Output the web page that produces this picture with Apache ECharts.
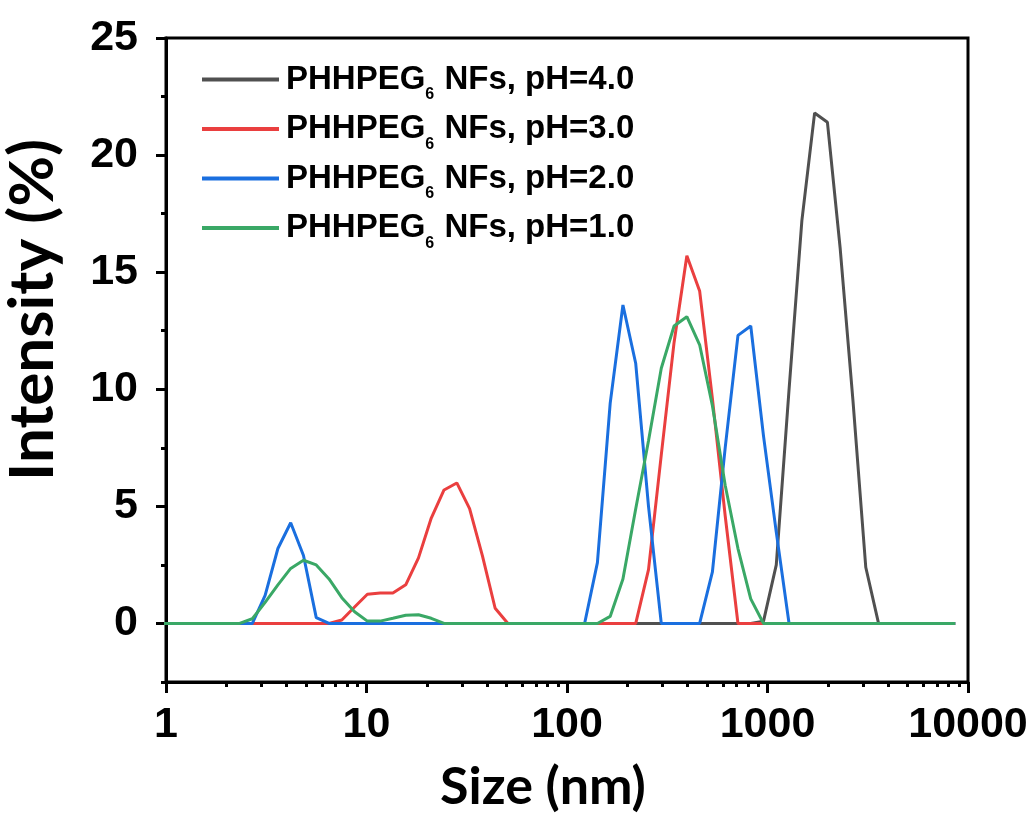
<!DOCTYPE html>
<html lang="en">
<head>
    <meta charset="UTF-8">
    <title>DLS size distribution</title>
    <script src="https://cdn.jsdelivr.net/npm/echarts@6/dist/echarts.min.js"></script>
    <style>
        html, body {
            margin: 0;
            padding: 0;
            background: #fff;
        }
        #chart {
            width: 1033px;
            height: 818px;
        }
    </style>
</head>
<body>
<div id="chart"></div>
<script>
    // size bins (nm)
    var sizes = [0.9649, 1.117, 1.294, 1.499, 1.736, 2.010, 2.328, 2.696, 3.122, 3.615,
        4.187, 4.849, 5.615, 6.503, 7.531, 8.721, 10.10, 11.70, 13.54, 15.69,
        18.17, 21.04, 24.36, 28.21, 32.67, 37.84, 43.82, 50.75, 58.77, 68.06,
        78.82, 91.28, 105.7, 122.4, 141.8, 164.2, 190.1, 220.2, 255.0, 295.3,
        342.0, 396.1, 458.7, 531.2, 615.1, 712.4, 825.0, 955.4, 1106, 1281,
        1484, 1718, 1990, 2305, 2669, 3091, 3580, 4145, 4801, 5560,
        6439, 7456, 8635];

    // intensity (%)
    var ph4 = [0, 0, 0, 0, 0, 0, 0, 0, 0, 0,
        0, 0, 0, 0, 0, 0, 0, 0, 0, 0,
        0, 0, 0, 0, 0, 0, 0, 0, 0, 0,
        0, 0, 0, 0, 0, 0, 0, 0, 0, 0,
        0, 0, 0, 0, 0, 0, 0, 0.1, 2.5, 10.0,
        17.2, 21.8, 21.4, 16.0, 9.5, 2.4, 0, 0, 0, 0,
        0, 0, 0];
    var ph3 = [0, 0, 0, 0, 0, 0, 0, 0, 0, 0,
        0, 0, 0, 0, 0.15, 0.7, 1.25, 1.3, 1.3, 1.65,
        2.8, 4.5, 5.7, 6.0, 4.9, 2.9, 0.65, 0, 0, 0,
        0, 0, 0, 0, 0, 0, 0, 0, 2.3, 7.2,
        12.0, 15.7, 14.2, 9.6, 4.6, 0, 0, 0, 0, 0,
        0, 0, 0, 0, 0, 0, 0, 0, 0, 0,
        0, 0, 0];
    var ph2 = [0, 0, 0, 0, 0, 0, 0, 0, 1.2, 3.2,
        4.3, 2.9, 0.25, 0, 0, 0, 0, 0, 0, 0,
        0, 0, 0, 0, 0, 0, 0, 0, 0, 0,
        0, 0, 0, 0, 2.6, 9.4, 13.6, 11.1, 5.0, 0,
        0, 0, 0, 2.2, 7.5, 12.3, 12.7, 8.0, 3.9, 0,
        0, 0, 0, 0, 0, 0, 0, 0, 0, 0,
        0, 0, 0];
    var ph1 = [0, 0, 0, 0, 0, 0, 0, 0.2, 0.9, 1.65,
        2.35, 2.7, 2.5, 1.9, 1.1, 0.5, 0.1, 0.1, 0.22, 0.35,
        0.37, 0.22, 0, 0, 0, 0, 0, 0, 0, 0,
        0, 0, 0, 0, 0, 0.3, 1.9, 4.9, 7.8, 10.9,
        12.7, 13.1, 11.9, 9.3, 5.9, 3.2, 1.05, 0, 0, 0,
        0, 0, 0, 0, 0, 0, 0, 0, 0, 0,
        0, 0, 0];

    var phLabels = ['4.0', '3.0', '2.0', '1.0'];
    var colors = ['#505050', '#ea3f3f', '#1a6fdf', '#3aa866'];
    var yTicks = [0, 5, 10, 15, 20, 25];
    var xMinor = [2, 3, 4, 5, 6, 7, 8, 9, 20, 30, 40, 50, 60, 70, 80, 90,
        200, 300, 400, 500, 600, 700, 800, 900, 2000, 3000, 4000, 5000, 6000, 7000, 8000, 9000];

    function pairs(arr) {
        var out = [];
        for (var i = 0; i < sizes.length; i++) {
            out.push([sizes[i], arr[i]]);
        }
        return out;
    }

    var allData = [ph4, ph3, ph2, ph1];
    var series = [];
    for (var k = 0; k < allData.length; k++) {
        series.push({
            name: 'PHHPEG6 NFs, pH=' + phLabels[k],
            type: 'line',
            xAxisIndex: 0,
            yAxisIndex: 0,
            data: pairs(allData[k]),
            showSymbol: false,
            symbol: 'none',
            clip: true,
            color: colors[k],
            lineStyle: {color: colors[k], width: 3},
            z: 2 + k
        });
    }

    var tickFont = {fontFamily: 'Liberation Sans, Arial, sans-serif', fontWeight: 'bold', fontSize: 43, color: '#000'};
    var titleFont = {fontFamily: 'Lato, Open Sans, sans-serif', fontWeight: 'bold', color: '#000'};

    var chart = echarts.init(document.getElementById('chart'));
    chart.setOption({
        animation: false,
        grid: {
            left: 166, right: 65, top: 38, bottom: 136,
            outerBoundsMode: 'none',
            containLabel: false,
            show: true, borderColor: '#000', borderWidth: 3
        },
        legend: {
            orient: 'vertical',
            left: 202,
            top: 56,
            padding: 0,
            itemWidth: 77,
            itemHeight: 4,
            itemGap: 2.5,
            icon: 'rect',
            data: series.map(function (s) { return s.name; }),
            formatter: function (name) {
                var rest = name.replace('PHHPEG6', '');
                return '{a|PHHPEG}{s|6}{b|' + rest + '}';
            },
            textStyle: {
                rich: {
                    a: {fontFamily: 'Liberation Sans, Arial', fontWeight: 'bold', fontSize: 33, lineHeight: 36, color: '#000', padding: [0, 0, 0, 2]},
                    b: {fontFamily: 'Liberation Sans, Arial', fontWeight: 'bold', fontSize: 33, lineHeight: 36, color: '#000'},
                    s: {fontFamily: 'Liberation Sans, Arial', fontWeight: 'bold', fontSize: 16, lineHeight: 16, color: '#000', padding: [31, 1, 0, 0]}
                }
            }
        },
        xAxis: [
            {
                type: 'log', logBase: 10, min: 1, max: 10000,
                position: 'bottom',
                name: 'Size (nm)',
                nameLocation: 'middle',
                nameGap: 79,
                nameTextStyle: Object.assign({fontSize: 52, padding: [0, 48, 0, 0]}, titleFont),
                axisLine: {show: true, onZero: false, lineStyle: {color: '#000', width: 3}},
                axisTick: {show: true, inside: false, length: 11, lineStyle: {color: '#000', width: 3}},
                axisLabel: Object.assign({
                    margin: 22,
                    formatter: function (v) { return String(Math.round(v)); }
                }, tickFont),
                minorTick: {show: false},
                splitLine: {show: false}
            },
            {
                type: 'log', logBase: 10, min: 1, max: 10000,
                position: 'bottom',
                axisLine: {show: false, onZero: false},
                axisTick: {show: true, inside: false, length: 5, customValues: xMinor, lineStyle: {color: '#000', width: 3}},
                axisLabel: {show: false},
                splitLine: {show: false}
            }
        ],
        yAxis: [
            {
                type: 'value', min: -2.5, max: 25,
                position: 'left',
                name: 'Intensity (%)',
                nameLocation: 'middle',
                nameGap: 102,
                nameTextStyle: Object.assign({fontSize: 62, padding: [0, 0, 0, 100]}, titleFont),
                axisLine: {show: true, onZero: false, lineStyle: {color: '#000', width: 3}},
                axisTick: {show: true, inside: false, length: 10, customValues: yTicks, lineStyle: {color: '#000', width: 3}},
                axisLabel: Object.assign({margin: 28, customValues: yTicks}, tickFont),
                splitLine: {show: false}
            },
            {
                type: 'value', min: -2.5, max: 25, interval: 2.5,
                position: 'left',
                axisLine: {show: false, onZero: false},
                axisTick: {show: true, inside: false, length: 5, lineStyle: {color: '#000', width: 3}},
                axisLabel: {show: false},
                splitLine: {show: false}
            }
        ],
        series: series
    });
</script>
</body>
</html>
